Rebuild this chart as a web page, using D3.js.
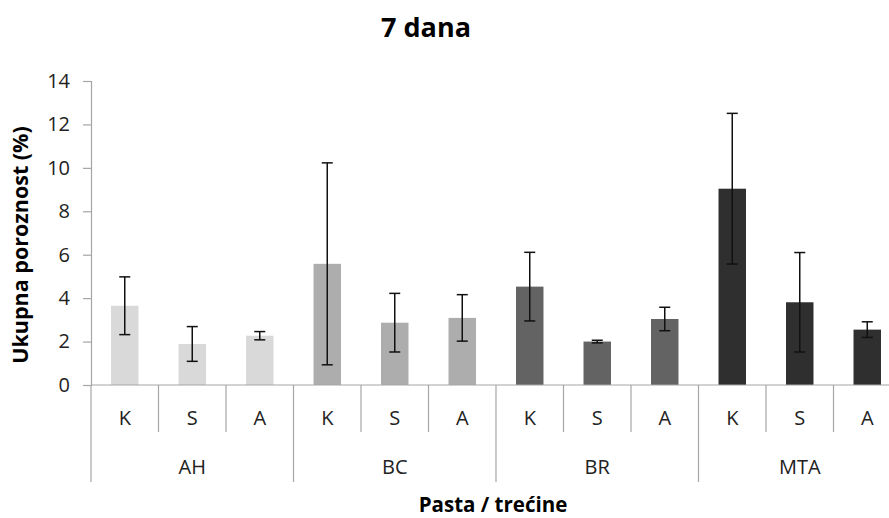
<!DOCTYPE html>
<html>
<head>
<meta charset="utf-8">
<script src="https://cdn.jsdelivr.net/npm/d3@7"></script>
<style>
  html, body { margin: 0; padding: 0; background: #fff; }
  svg { display: block; font-family: "Open Sans", "Noto Sans", sans-serif; }
</style>
</head>
<body>
<svg id="chart" width="889" height="518"></svg>
<script>
// Paste groups and the thirds measured within each
const groups = ["AH", "BC", "BR", "MTA"];
const thirds = ["K", "S", "A"];
const groupColors = ["#d9d9d9", "#adadad", "#636363", "#2f2f2f"];

// Mean total porosity (%) per group, in order K, S, A
const meanAH  = [3.65, 1.89, 2.27];
const meanBC  = [5.58, 2.87, 3.09];
const meanBR  = [4.53, 2.00, 3.04];
const meanMTA = [9.04, 3.81, 2.55];

// Standard deviation per group, in order K, S, A
const sdAH  = [1.33, 0.80, 0.19];
const sdBC  = [4.65, 1.35, 1.07];
const sdBR  = [1.58, 0.06, 0.54];
const sdMTA = [3.47, 2.29, 0.36];

const yTicks = [0, 2, 4, 6, 8, 10, 12, 14];

const means = [meanAH, meanBC, meanBR, meanMTA];
const sds = [sdAH, sdBC, sdBR, sdMTA];

const rows = [];
groups.forEach((g, gi) => {
  thirds.forEach((t, ti) => {
    rows.push({ key: g + "-" + t, group: g, gi, third: t, value: means[gi][ti], sd: sds[gi][ti] });
  });
});

const svg = d3.select("#chart");
const axisColor = "#a6a6a6";

const plotLeft = 91, plotRight = 901, plotTop = 81, plotBottom = 385;

const x = d3.scaleBand()
  .domain(rows.map(d => d.key))
  .range([plotLeft, plotRight])
  .paddingInner(0.593)
  .paddingOuter(0.2965);

const step = x.step();

const y = d3.scaleLinear().domain([0, 14]).range([plotBottom, plotTop]);

// Title
svg.append("text")
  .attr("x", 426).attr("y", 37)
  .attr("text-anchor", "middle")
  .attr("font-size", 27).attr("font-weight", 700)
  .attr("fill", "#000")
  .text("7 dana");

// Y axis
const yAxis = svg.append("g")
  .attr("transform", `translate(${plotLeft},0)`)
  .call(d3.axisLeft(y).tickValues(yTicks).tickSize(8).tickPadding(13).tickFormat(d3.format("d")));
yAxis.select(".domain").attr("stroke", axisColor).attr("stroke-width", 1.2);
yAxis.selectAll(".tick line").attr("stroke", axisColor).attr("stroke-width", 1.2);
yAxis.selectAll(".tick text")
  .attr("font-size", 20).attr("fill", "#222")
  .attr("font-family", "'Open Sans', sans-serif");

// Y axis title
svg.append("text")
  .attr("transform", "translate(28,245) rotate(-90)")
  .attr("text-anchor", "middle")
  .attr("font-size", 21.5).attr("font-weight", 700)
  .attr("fill", "#000")
  .text("Ukupna poroznost (%)");

// Bars
svg.append("g").selectAll("rect")
  .data(rows)
  .join("rect")
  .attr("x", d => x(d.key))
  .attr("y", d => y(d.value))
  .attr("width", x.bandwidth())
  .attr("height", d => y(0) - y(d.value))
  .attr("fill", d => groupColors[d.gi]);

// Error bars
const capHalf = 5.5;
const eb = svg.append("g").attr("stroke", "#111").attr("stroke-width", 1.5);
rows.forEach(d => {
  const cx = x(d.key) + x.bandwidth() / 2;
  const top = y(d.value + d.sd), bot = y(Math.max(0, d.value - d.sd));
  eb.append("line").attr("x1", cx).attr("x2", cx).attr("y1", top).attr("y2", bot);
  eb.append("line").attr("x1", cx - capHalf).attr("x2", cx + capHalf).attr("y1", top).attr("y2", top);
  eb.append("line").attr("x1", cx - capHalf).attr("x2", cx + capHalf).attr("y1", bot).attr("y2", bot);
});

// Category axis: baseline, separators, labels
const xa = svg.append("g").attr("stroke", axisColor).attr("stroke-width", 1.2);
xa.append("line").attr("x1", plotLeft).attr("x2", plotRight).attr("y1", plotBottom).attr("y2", plotBottom);
rows.forEach((d, i) => {
  const bx = x(d.key) - step * x.paddingInner() / 2;
  const isGroupEdge = i % thirds.length === 0;
  xa.append("line")
    .attr("x1", bx).attr("x2", bx)
    .attr("y1", plotBottom).attr("y2", isGroupEdge ? 482 : 432);
});
xa.append("line").attr("x1", plotRight).attr("x2", plotRight).attr("y1", plotBottom).attr("y2", 482);

svg.append("g").selectAll("text")
  .data(rows)
  .join("text")
  .attr("x", d => x(d.key) + x.bandwidth() / 2)
  .attr("y", 424.5)
  .attr("text-anchor", "middle")
  .attr("font-size", 20).attr("fill", "#222")
  .text(d => d.third);

svg.append("g").selectAll("text")
  .data(groups)
  .join("text")
  .attr("x", (g, gi) => {
    const first = x(g + "-" + thirds[0]) - step * x.paddingInner() / 2;
    return first + step * thirds.length / 2;
  })
  .attr("y", 473.5)
  .attr("text-anchor", "middle")
  .attr("font-size", 20).attr("fill", "#222")
  .text(g => g);

// X axis title
svg.append("text")
  .attr("x", 493).attr("y", 512)
  .attr("text-anchor", "middle")
  .attr("font-size", 20.5).attr("font-weight", 700)
  .attr("fill", "#000")
  .text("Pasta / trećine");
</script>
</body>
</html>
